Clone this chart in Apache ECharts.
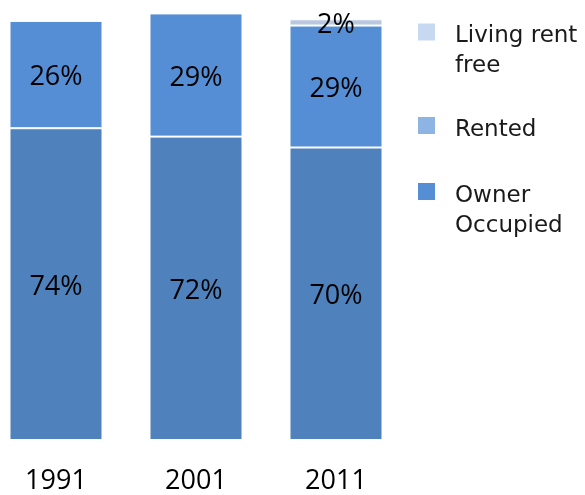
<!DOCTYPE html>
<html>
<head>
<meta charset="utf-8">
<script src="https://cdn.jsdelivr.net/npm/echarts@6/dist/echarts.min.js"></script>
<style>
  html, body { margin: 0; padding: 0; background: #fff; }
  #chart { width: 585px; height: 495px; }
</style>
</head>
<body>
<div id="chart"></div>
<script>
const years = ['1991', '2001', '2011']
// percent shares
const ownerOccupied = [74.4, 72.4, 69.8]
const rented = [25.6, 29.4, 29.1]
const rentFree = [null, null, 1.5]

const chart = echarts.init(document.getElementById('chart'))

const pctLabel = p => Math.round(p.value) + '%'

// a spacer line on top nudges the text down next to the icon
const legendText = {
  'Living rent free': '{s| }\n{t|Living rent}\n{t|free}',
  'Rented': '{r| }\n{t|Rented}',
  'Owner Occupied': '{s| }\n{t|Owner}\n{t|Occupied}'
}

const legendFont = { fontFamily: 'DejaVu Sans', fontSize: 23, color: '#1a1a1a' }

const legendBase = {
  orient: 'vertical',
  left: 418,
  padding: 0,
  itemWidth: 17,
  itemHeight: 17,
  icon: 'rect',
  selectedMode: false,
  formatter: name => legendText[name],
  textStyle: Object.assign({}, legendFont, {
    padding: [0, 0, 0, 15],
    rich: {
      s: Object.assign({}, legendFont, { lineHeight: 39 }),
      r: Object.assign({}, legendFont, { lineHeight: 9 }),
      t: Object.assign({}, legendFont, { lineHeight: 30 })
    }
  })
}

const labelStyle = {
  show: true,
  position: 'inside',
  offset: [0, 3],
  formatter: pctLabel,
  fontFamily: 'Open Sans',
  fontSize: 27,
  color: '#000'
}

chart.setOption({
  animation: false,
  grid: { left: -14, width: 420, top: 0, bottom: 55, outerBoundsMode: 'none' },
  legend: [
    Object.assign({}, legendBase, {
      top: -9.5,
      data: [{ name: 'Living rent free', itemStyle: { color: '#C6D9F1', borderWidth: 0 } }]
    }),
    Object.assign({}, legendBase, {
      top: 99,
      data: [{ name: 'Rented', itemStyle: { color: '#8EB4E3', borderWidth: 0 } }]
    }),
    Object.assign({}, legendBase, {
      top: 150,
      data: [{ name: 'Owner Occupied', itemStyle: { color: '#558ED5', borderWidth: 0 } }]
    })
  ],
  xAxis: {
    type: 'category',
    data: years,
    axisLine: { show: false },
    axisTick: { show: false },
    axisLabel: {
      margin: 28,
      fontFamily: 'Open Sans',
      fontSize: 27,
      color: '#000'
    }
  },
  yAxis: {
    type: 'value',
    min: 0,
    max: 105,
    show: false,
    splitLine: { show: false }
  },
  series: [
    {
      name: 'Owner Occupied',
      type: 'bar',
      stack: 'total',
      barWidth: 93,
      data: ownerOccupied,
      itemStyle: { color: '#4F81BD', borderColor: '#fff', borderWidth: 1 },
      label: labelStyle
    },
    {
      name: 'Rented',
      type: 'bar',
      stack: 'total',
      barWidth: 93,
      data: rented,
      itemStyle: { color: '#558ED5', borderColor: '#fff', borderWidth: 1 },
      label: labelStyle
    },
    {
      name: 'Living rent free',
      type: 'bar',
      stack: 'total',
      barWidth: 93,
      data: rentFree,
      itemStyle: { color: '#B9C8E0', borderColor: '#fff', borderWidth: 1 },
      label: labelStyle
    }
  ]
})
</script>
</body>
</html>
